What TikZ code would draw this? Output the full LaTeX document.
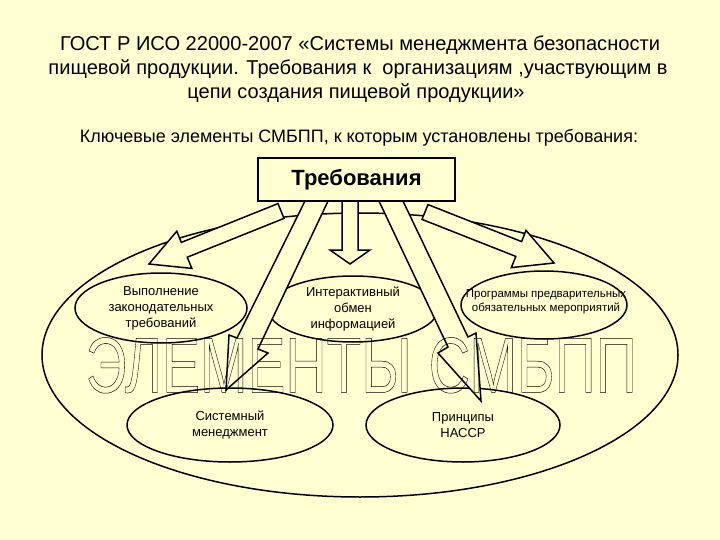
\documentclass[tikz,border=0pt]{standalone}
\usepackage{fontspec}
\setmainfont{Liberation Sans}
\usepackage{graphicx}
\usetikzlibrary{shapes.geometric}
\definecolor{bg}{RGB}{255,255,210}
\newcommand{\outlinetext}[1]{\special{pdf:literal direct 1 Tr 0.5 w}#1\special{pdf:literal direct 0 Tr}}
\begin{document}
\begin{tikzpicture}[x=1pt,y=-1pt,line width=1.5pt,
  ell/.style={ellipse,draw,inner sep=0pt,align=center,font=\fontsize{13}{16}\selectfont},
  blk/.style={draw,fill=bg,line join=miter},
  ttl/.style={anchor=base,inner sep=0pt}]
\fill[bg] (0,0) rectangle (720,540);
\useasboundingbox (0,0) rectangle (720,540);

% title
\node[ttl] (t1) at (360,51) {\resizebox{600pt}{!}{ГОСТ Р ИСО 22000-2007 «Системы менеджмента безопасности}};
\node[ttl] (t2) at (358,75) {\resizebox{619pt}{!}{пищевой продукции. Требования к\ \ организациям ,участвующим в}};
\node[ttl] (t3) at (356,99) {\resizebox{337pt}{!}{цепи создания пищевой продукции»}};
\node[ttl] (sub) at (359,143) {\resizebox{558pt}{!}{Ключевые элементы СМБПП, к которым установлены требования:}};

% big ellipse and small ellipses
\node[ellipse,draw,minimum width=636pt,minimum height=284pt,inner sep=0pt] (big) at (360,355) {};
\node[ell,minimum width=172pt,minimum height=70pt] (e1) at (161,308) {Выполнение\\законодательных\\требований};
\node[ell,minimum width=170pt,minimum height=66pt] (e2) at (353,309) {Интерактивный\\обмен\\информацией};
\node[ellipse,draw,minimum width=166pt,minimum height=68pt,inner sep=0pt] (e3) at (544,305) {};
\node[ell,minimum width=206pt,minimum height=74pt] (e4) at (230,425) {Системный\\менеджмент};
\node[ell,minimum width=194pt,minimum height=74pt] (e5) at (463,425) {Принципы\\НАССР};

% block arrows
\draw[blk] (278,203.6) -- (181.3,242.4) -- (176.8,231.2) -- (149,264) -- (191.8,268.4) -- (187.3,257.2) -- (284,218.4) -- cycle;
\draw[blk] (428,204.6) -- (521.6,241.6) -- (526,230.4) -- (554,263) -- (511.3,267.6) -- (515.8,256.4) -- (422,219.4) -- cycle;
\draw[blk] (342,198) -- (342,250) -- (330,250) -- (350,264) -- (370,250) -- (358,250) -- (358,198) -- cycle;
\draw[blk] (306,199) -- (237,338) -- (229,335) -- (226,390) -- (268,353) -- (258,349) -- (329,199) -- cycle;
\draw[blk] (378,199) -- (448,347) -- (438,353) -- (481,401) -- (476,333) -- (468,337) -- (402,199) -- cycle;

% requirements box
\node[draw,fill=bg,minimum width=197pt,minimum height=43pt,inner sep=0pt,font=\fontsize{22}{26}\selectfont\bfseries] (req) at (356.5,179.5) {Требования};

% label of e3
\node[font=\fontsize{11.5}{14}\selectfont,align=center,inner sep=0pt] (e3t) at (546,302) {Программы предварительных\\обязательных мероприятий};

% outlined big text
\node[anchor=south west,inner sep=0pt] (w1) at (85,394) {\resizebox{326pt}{55pt}{\fontsize{80}{80}\selectfont\outlinetext{ЭЛЕМЕНТЫ}}};
\node[anchor=south west,inner sep=0pt] (w2) at (428,394) {\resizebox{208pt}{55pt}{\fontsize{80}{80}\selectfont\outlinetext{СМБПП}}};
\end{tikzpicture}
\end{document}
